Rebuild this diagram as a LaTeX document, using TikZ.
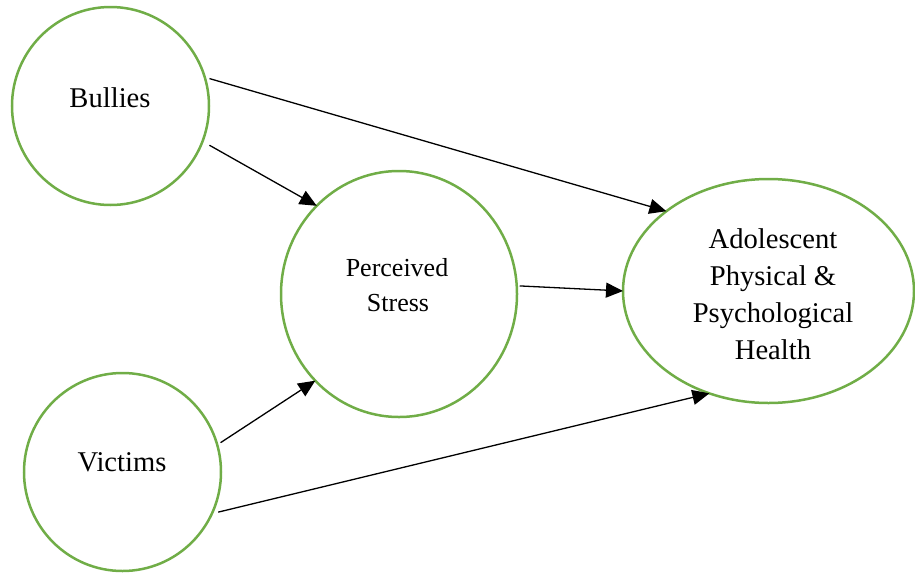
\documentclass[tikz,border=0pt]{standalone}
\usepackage{fontspec}
\setmainfont{Liberation Serif}
\usetikzlibrary{shapes.geometric,arrows.meta}
\definecolor{leaf}{HTML}{70AD47}
\begin{document}
\begin{tikzpicture}[x=1pt,y=-1pt,
  blob/.style={draw=leaf,line width=2.5pt,ellipse,inner sep=0pt,outer sep=0pt},
  big/.style={font=\fontsize{28.6}{37}\selectfont,anchor=base,inner sep=0pt},
  small/.style={font=\fontsize{26}{35}\selectfont,anchor=base,inner sep=0pt},
  arr/.style={draw=black,line width=1.3pt,-{Triangle[length=17pt,width=15pt]}}]
\useasboundingbox (0,0) rectangle (915,573);

% factor circles
\node[blob,minimum width=197pt,minimum height=198pt] (bul) at (110.5,106) {};
\node[blob,minimum width=197pt,minimum height=198pt] (vic) at (122.5,472) {};
\node[blob,minimum width=236pt,minimum height=246pt] (per) at (399,294) {};
\node[blob,minimum width=291pt,minimum height=224pt] (ado) at (768.5,291) {};

% labels
\node[big] (tbul) at (110,107) {Bullies};
\node[big] (tvic) at (122,471) {Victims};
\node[small] (tper1) at (397,276) {Perceived};
\node[small] (tper2) at (398,311) {Stress};
\node[big] (tado1) at (773,248) {Adolescent};
\node[big] (tado2) at (773,285) {Physical \&};
\node[big] (tado3) at (773,322) {Psychological};
\node[big] (tado4) at (773,359) {Health};

% paths
\draw[arr,shorten <=5pt] (bul.17.3) -- (ado.142.6);
\draw[arr,shorten <=8pt] (bul.-21.4) -- (per.133.3);
\draw[arr,shorten <=3pt] (per.4.7) -- (ado.180);
\draw[arr,shorten <=4pt] (vic.16.4) -- (per.-134);
\draw[arr,shorten <=6.5pt] (vic.-25.5) -- (ado.-120);
\end{tikzpicture}
\end{document}
